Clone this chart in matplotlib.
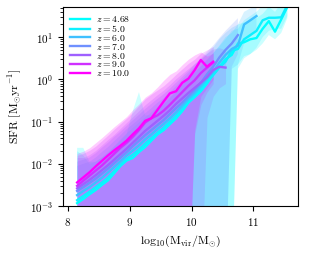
import numpy as np
import matplotlib
matplotlib.use("Agg")
import matplotlib.pyplot as plt

plt.rcParams['mathtext.fontset'] = 'cm'
plt.rcParams['font.family'] = 'serif'
plt.rcParams['font.serif'] = ['cmr10', 'DejaVu Serif']
plt.rcParams['axes.formatter.use_mathtext'] = True

redshifts = [4.68, 5.0, 6.0, 7.0, 8.0, 9.0, 10.0]

# mass bins (log10 Mvir)
mass_bins = [8.15, 8.25, 8.35, 8.45, 8.55, 8.65, 8.75, 8.85, 8.95, 9.05, 9.15, 9.25,
             9.35, 9.45, 9.55, 9.65, 9.75, 9.85, 9.95, 10.05, 10.15, 10.25, 10.35,
             10.45, 10.55, 10.65, 10.75, 10.85, 10.95, 11.05, 11.15, 11.25, 11.35,
             11.45, 11.55]

# log10 median SFR
med_z468 = [-2.93, -2.83, -2.72, -2.62, -2.50, -2.39, -2.22, -2.05, -1.92, -1.86, -1.72, -1.60,
            -1.45, -1.30, -1.20, -1.06, -0.92, -0.75, -0.55, -0.42, -0.28, -0.10, 0.12,
            0.30, 0.48, 0.58, 0.85, 0.88, 0.95, 0.98, 1.20, 1.38, 1.13, 1.42, 1.72]
med_z5 = [-2.86, -2.76, -2.66, -2.55, -2.44, -2.32, -2.17, -2.02, -1.88, -1.78, -1.66, -1.52,
          -1.39, -1.26, -1.14, -1.00, -0.86, -0.70, -0.52, -0.38, -0.22, -0.05, 0.10,
          0.28, 0.42, 0.68, 0.72, 0.95, 1.05, 1.15, 1.40, 1.46, 1.46, 1.47, 1.76]
med_z6 = [-2.74, -2.64, -2.55, -2.44, -2.33, -2.20, -2.07, -1.94, -1.80, -1.68, -1.56, -1.42,
          -1.30, -1.17, -1.05, -0.92, -0.78, -0.62, -0.46, -0.32, -0.15, 0.02, 0.18,
          0.40, 0.58, 0.72, 0.80, 1.30, 1.40, 1.50]
med_z7 = [-2.64, -2.55, -2.45, -2.35, -2.23, -2.11, -1.98, -1.85, -1.72, -1.58, -1.45, -1.32,
          -1.20, -1.08, -0.96, -0.82, -0.68, -0.55, -0.40, -0.25, -0.08, 0.12, 0.30,
          0.52, 0.70, 0.85, 1.05]
med_z8 = [-2.58, -2.48, -2.38, -2.27, -2.15, -2.03, -1.90, -1.77, -1.64, -1.50, -1.36, -1.22,
          -1.10, -0.98, -0.86, -0.73, -0.58, -0.45, -0.32, -0.20, -0.08, 0.05, 0.22,
          0.30, 0.28]
med_z9 = [-2.52, -2.40, -2.28, -2.16, -2.04, -1.90, -1.76, -1.62, -1.50, -1.36, -1.20, -1.02,
          -0.92, -0.85, -0.74, -0.60, -0.45, -0.30, -0.15, -0.02, 0.15, 0.28, 0.40]
med_z10 = [-2.44, -2.32, -2.20, -2.06, -1.93, -1.80, -1.68, -1.57, -1.45, -1.30, -1.16, -0.98,
           -0.92, -0.72, -0.52, -0.33, -0.28, -0.08, 0.02, 0.22, 0.46, 0.30, 0.42]

# log10 upper percentile
hi_z468 = [-1.62, -1.62, -1.95, -1.95, -1.85, -1.75, -1.60, -1.45, -1.30, -0.75, -0.30, -0.85,
           -0.85, -0.70, -0.60, -0.45, -0.30, -0.15, 0.02, 0.15, 0.30, 0.45, 0.62,
           0.80, 1.00, 1.10, 1.30, 1.35, 1.40, 1.45, 1.55, 1.72, 1.60, 1.80, 1.90]
hi_z5 = [-1.70, -1.80, -2.00, -1.95, -1.85, -1.72, -1.58, -1.42, -1.28, -1.15, -1.02, -0.90,
         -0.78, -0.65, -0.55, -0.42, -0.28, -0.12, 0.05, 0.18, 0.32, 0.48, 0.62,
         0.78, 0.95, 1.15, 1.20, 1.40, 1.50, 1.60, 1.75, 1.78, 1.72, 1.75, 1.95]
hi_z6 = [-2.05, -2.00, -1.95, -1.85, -1.72, -1.60, -1.46, -1.32, -1.18, -1.06, -0.94, -0.80,
         -0.68, -0.55, -0.44, -0.30, -0.16, 0.00, 0.15, 0.30, 0.45, 0.60, 0.75,
         0.95, 1.10, 1.22, 1.30, 1.60, 1.68, 1.75]
hi_z7 = [-1.95, -1.90, -1.85, -1.75, -1.62, -1.50, -1.36, -1.24, -1.10, -0.97, -0.84, -0.70,
         -0.58, -0.46, -0.35, -0.22, -0.08, 0.06, 0.20, 0.35, 0.50, 0.65, 0.80,
         0.98, 1.15, 1.30, 1.45]
hi_z8 = [-1.85, -1.85, -1.78, -1.68, -1.55, -1.42, -1.30, -1.16, -1.02, -0.88, -0.74, -0.60,
         -0.48, -0.36, -0.25, -0.12, 0.02, 0.14, 0.26, 0.38, 0.50, 0.62, 0.72,
         0.75, 0.70]
hi_z9 = [-1.80, -1.75, -1.68, -1.58, -1.45, -1.32, -1.18, -1.05, -0.92, -0.78, -0.62, -0.46,
         -0.35, -0.25, -0.15, -0.02, 0.12, 0.25, 0.38, 0.48, 0.62, 0.70, 0.78]
hi_z10 = [-1.75, -1.70, -1.62, -1.50, -1.38, -1.25, -1.12, -1.00, -0.88, -0.72, -0.58, -0.42,
          -0.32, -0.18, -0.02, 0.12, 0.20, 0.35, 0.48, 0.58, 0.65, 0.55, 0.62]

# log10 lower percentile (-5 = zero SFR, below the plotted range)
lo_z468 = [-5] * 26 + [0.35, 0.55, 0.60, 0.70, 0.85, 1.05, 0.95, 1.10, 1.45]
lo_z5 = [-5] * 26 + [0.25, 0.50, 0.60, 0.75, 1.00, 1.15, 1.20, 1.20, 1.50]
lo_z6 = [-5] * 25 + [0.25, 0.35, 0.85, 1.00, 1.20]
lo_z7 = [-5] * 25 + [0.30, 0.60]
lo_z8 = [-5] * 21 + [-0.90, -0.40, -0.20, -0.10]
lo_z9 = [-5] * 19 + [-1.30, -0.60, -0.30, -0.10]
lo_z10 = [-5] * 19 + [-1.20, -0.40, -0.20, 0.00]

medians = [med_z468, med_z5, med_z6, med_z7, med_z8, med_z9, med_z10]
uppers = [hi_z468, hi_z5, hi_z6, hi_z7, hi_z8, hi_z9, hi_z10]
lowers = [lo_z468, lo_z5, lo_z6, lo_z7, lo_z8, lo_z9, lo_z10]

fig = plt.figure(figsize=(3.31, 2.57), dpi=100)
ax = fig.add_axes([0.190, 0.198, 0.710, 0.775])

cmap = plt.get_cmap('cool')
zmin, zmax = min(redshifts), max(redshifts)
colors = [cmap((z - zmin) / (zmax - zmin)) for z in redshifts]

for z, med, hi, lo, c in zip(redshifts, medians, uppers, lowers, colors):
    m = np.array(mass_bins[:len(med)])
    ax.fill_between(m, 10 ** np.array(lo, dtype=float), 10 ** np.array(hi),
                    color=c, alpha=0.2, linewidth=0)

for z, med, c in zip(redshifts, medians, colors):
    m = np.array(mass_bins[:len(med)])
    ax.plot(m, 10 ** np.array(med), color=c, lw=1.7, label=rf'$z = {z}$')

ax.set_yscale('log')
ax.set_xlim(7.92, 11.72)
ax.set_ylim(1e-3, 52)
ax.set_xticks([8, 9, 10, 11])
ax.tick_params(labelsize=8)
ax.set_xlabel(r'$\mathrm{log}_{10}(\mathrm{M_{vir}/M_{\odot}})$', fontsize=8.5)
ax.set_ylabel(r'SFR $[\mathrm{M_{\odot}yr^{-1}}]$', fontsize=8.5)
ax.legend(loc='upper left', frameon=False, fontsize=7, handlelength=2.0,
          handletextpad=0.7, labelspacing=-0.12, borderaxespad=0.25,
          borderpad=0.5)

fig.savefig('out.png', dpi=100)
